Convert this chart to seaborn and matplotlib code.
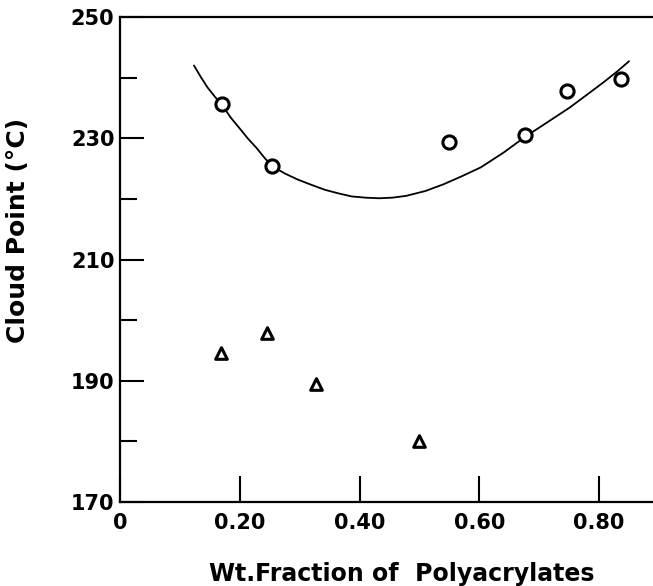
import matplotlib
matplotlib.use("Agg")
import matplotlib.pyplot as plt
import seaborn as sns
import pandas as pd

# Data
circle_x = [0.171, 0.254, 0.549, 0.677, 0.747, 0.836]
circle_y = [235.6, 225.4, 229.4, 230.5, 237.8, 239.8]

tri_x = [0.168, 0.246, 0.328, 0.500]
tri_y = [194.5, 197.9, 189.5, 180.0]

curve_x = [0.1235, 0.135, 0.146, 0.158, 0.171, 0.185, 0.200, 0.214, 0.228, 0.241,
           0.254, 0.275, 0.2965, 0.320, 0.342, 0.365, 0.387, 0.410, 0.4325, 0.455,
           0.478, 0.510, 0.540, 0.570, 0.6025, 0.640, 0.676, 0.713, 0.750, 0.780,
           0.807, 0.830, 0.850]
curve_y = [242.0, 240.1, 238.4, 236.9, 235.4, 233.4, 231.6, 229.9, 228.4, 226.8,
           225.4, 224.2, 223.2, 222.3, 221.5, 220.9, 220.4, 220.2, 220.1, 220.2,
           220.5, 221.3, 222.4, 223.7, 225.2, 227.6, 230.2, 232.6, 235.0, 237.2,
           239.2, 241.0, 242.7]

x_ticks = [0.0, 0.2, 0.4, 0.6, 0.8]
x_ticklabels = ["0", "0.20", "0.40", "0.60", "0.80"]
y_major = [170, 190, 210, 230, 250]
y_minor = [180, 200, 220, 240]
y_ticklabels = ["170", "190", "210", "230", "250"]

sns.set_theme(style="ticks")
plt.rcParams["font.family"] = ["DejaVu Sans"]
plt.rcParams["text.color"] = "black"
plt.rcParams["axes.labelcolor"] = "black"

fig = plt.figure(figsize=(6.53, 5.86), dpi=100)
ax = fig.add_axes([120 / 653, 1 - 502 / 586, 1 - 120 / 653, (502 - 17) / 586])

curve_df = pd.DataFrame({"x": curve_x, "y": curve_y})
sns.lineplot(data=curve_df, x="x", y="y", ax=ax, color="black", linewidth=1.3,
             sort=False, estimator=None)

circ_df = pd.DataFrame({"x": circle_x, "y": circle_y})
sns.scatterplot(data=circ_df, x="x", y="y", ax=ax, marker="o", s=90,
                facecolor="white", edgecolor="black", linewidth=2.2, zorder=5)

tri_df = pd.DataFrame({"x": tri_x, "y": tri_y})
sns.scatterplot(data=tri_df, x="x", y="y", ax=ax, marker="^", s=70,
                facecolor="white", edgecolor="black", linewidth=2.2, zorder=5)

ax.set_xlim(0, 0.89)
ax.set_ylim(170, 250)

ax.set_xticks(x_ticks)
ax.set_xticklabels(x_ticklabels)
ax.set_yticks(y_major)
ax.set_yticklabels(y_ticklabels)
ax.set_yticks(y_minor, minor=True)

ax.tick_params(axis="x", which="major", direction="in", length=19, width=1.5,
               labelsize=15, pad=8, colors="black")
ax.tick_params(axis="y", which="major", direction="in", length=17, width=1.5,
               labelsize=15, pad=4, colors="black")
ax.tick_params(axis="y", which="minor", direction="in", length=12, width=1.5,
               colors="black")

for lab in ax.get_xticklabels() + ax.get_yticklabels():
    lab.set_fontweight("bold")

for side in ["left", "bottom", "top"]:
    ax.spines[side].set_visible(True)
    ax.spines[side].set_linewidth(1.6)
    ax.spines[side].set_color("black")
ax.spines["right"].set_visible(False)

ax.set_xlabel("Wt.Fraction of  Polyacrylates", fontsize=17, fontweight="bold",
              color="black")
ax.set_ylabel("Cloud Point (°C)", fontsize=18, fontweight="bold", color="black")
ax.xaxis.set_label_coords((402 - 120) / 533, -(562 - 502) / 485)
ax.yaxis.set_label_coords(-(120 - 30) / 533, (502 - 230) / 485)

ax.set_facecolor("white")
fig.patch.set_facecolor("white")
fig.savefig("out.png", dpi=100)
